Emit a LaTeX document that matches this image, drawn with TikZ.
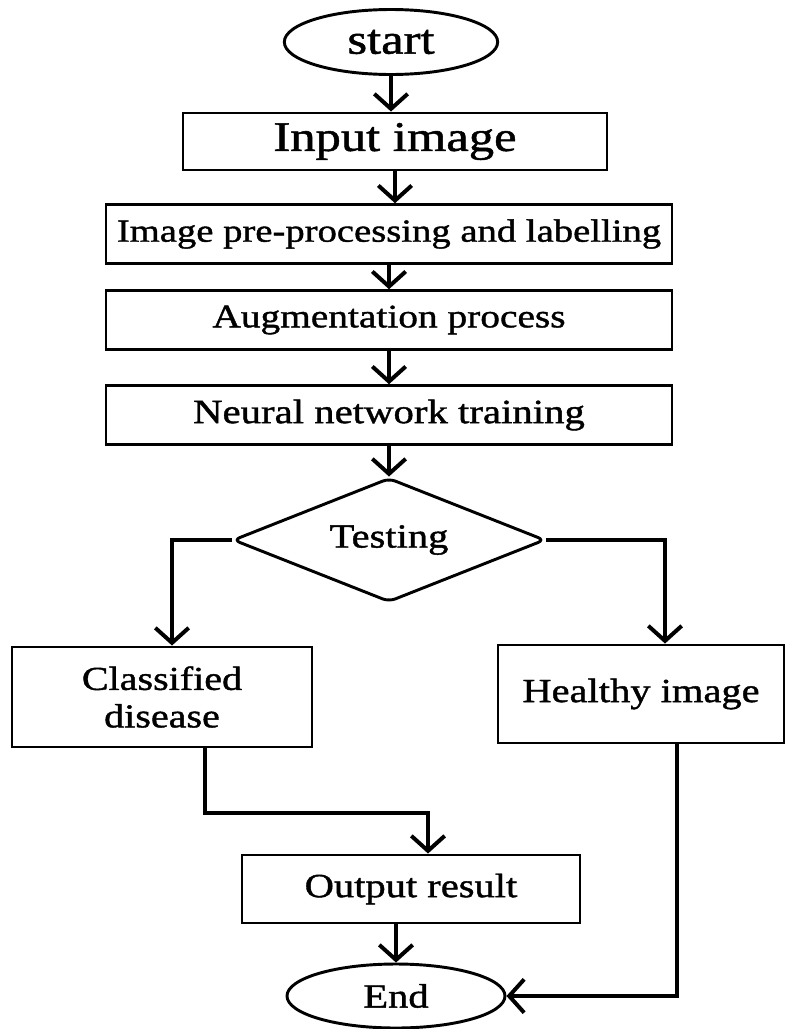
\documentclass[tikz,border=0pt]{standalone}
\usepackage{fontspec}
\setmainfont{Liberation Serif}[FakeStretch=1.2, FakeBold=1.2]
\usetikzlibrary{shapes.geometric,arrows.meta}
\begin{document}
\begin{tikzpicture}[x=0.3mm, y=-0.3mm, >={Straight Barb[length=4.5mm,width=10mm]},
      blk/.style={draw, line width=2.5pt, inner sep=0pt, align=center, font=\fontsize{28.8}{33}\selectfont},
      oval/.style={blk, ellipse, minimum width=64mm, minimum height=19.5mm},
      wide/.style={blk, minimum width=169.8mm, minimum height=17.6mm},
      arr/.style={->, line width=3.4pt}]
    \useasboundingbox (0,0) rectangle (785,1029);
    \node[oval, font=\fontsize{36}{40}\selectfont] (start) at (391,42) {start};
    \node[blk, minimum width=127.2mm, minimum height=17.1mm, font=\fontsize{36}{40}\selectfont] (inp) at (395,141.5) {Input image};
    \node[wide, font=\fontsize{27.5}{31}\selectfont] (pre) at (389,234) {Image pre-processing and labelling};
    \node[wide, font=\fontsize{28}{31}\selectfont] (aug) at (389,320) {Augmentation process};
    \node[wide, font=\fontsize{29}{32}\selectfont] (nnt) at (389,415) {Neural network training};
    \node[blk, diamond, aspect=2.5, minimum width=93.6mm, minimum height=37.2mm, rounded corners=2mm] (test) at (389,540) {Testing};
    \node[blk, minimum width=90mm, minimum height=30mm, font=\fontsize{28.5}{32}\selectfont] (cls) at (162,697) {Classified\\ disease};
    \node[blk, minimum width=85.8mm, minimum height=29.4mm] (hea) at (641,694) {Healthy image};
    \node[blk, minimum width=101.4mm, minimum height=20.4mm] (out) at (411,889) {Output result};
    \node[oval, minimum width=65.4mm, minimum height=19.2mm] (end) at (396,996) {End};
    \coordinate (join) at (428,813);
    \draw[arr] (start.south) -- (start.south |- inp.north);
    \draw[arr] (inp.south) -- (inp.south |- pre.north);
    \draw[arr] (pre) -- (aug);
    \draw[arr] (aug) -- (nnt);
    \draw[arr] (nnt) -- (test);
    \draw[arr] (test.west) -| ([xshift=3mm]cls.north);
    \draw[arr] (test.east) -| ([xshift=7.2mm]hea.north);
    \draw[arr] ([xshift=12.9mm]cls.south) |- (join) -- (join |- out.north);
    \draw[arr] (end.north |- out.south) -- (end.north);
    \draw[arr] ([xshift=10.8mm]hea.south) |- (end.east);
\end{tikzpicture}
\end{document}
